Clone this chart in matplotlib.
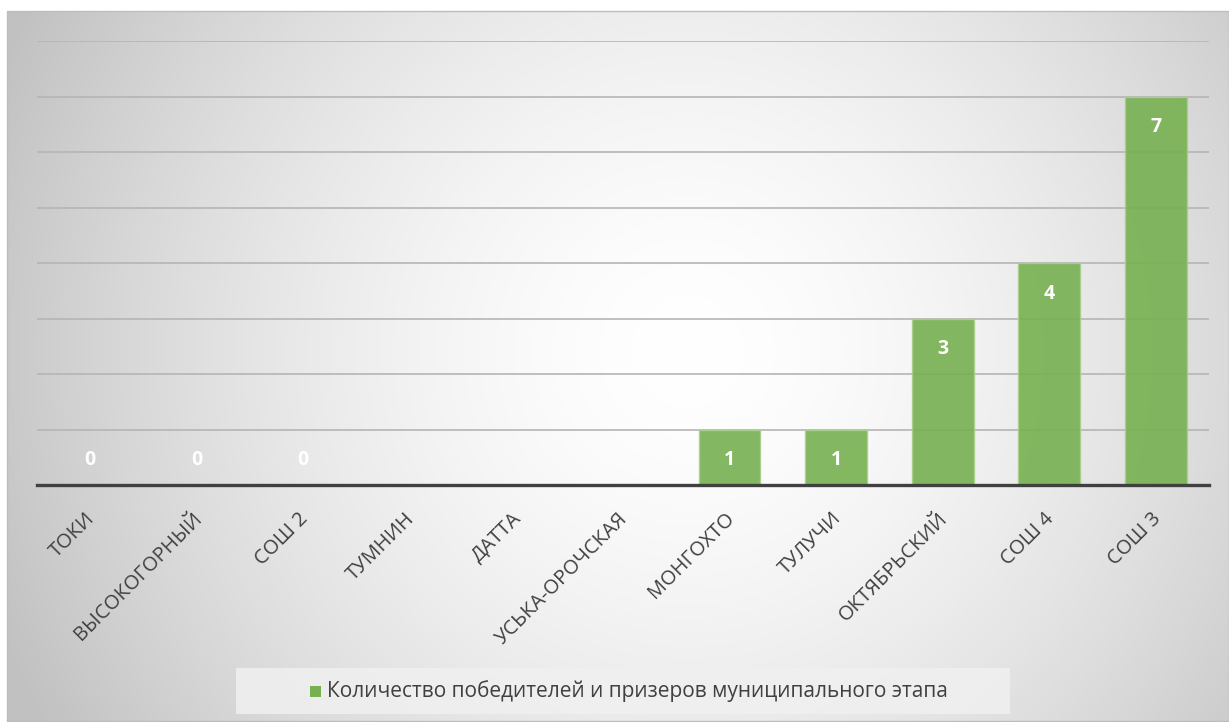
import numpy as np
import matplotlib.pyplot as plt
from matplotlib.patches import Rectangle
from matplotlib.transforms import ScaledTranslation

# Data
schools = ['ТОКИ', 'ВЫСОКОГОРНЫЙ', 'СОШ 2', 'ТУМНИН', 'ДАТТА', 'УСЬКА-ОРОЧСКАЯ',
           'МОНГОХТО', 'ТУЛУЧИ', 'ОКТЯБРЬСКИЙ', 'СОШ 4', 'СОШ 3']
winners = [0, 0, 0, None, None, None, 1, 1, 3, 4, 7]
series_name = 'Количество победителей и призеров муниципального этапа'

W, H = 1229, 722
fig = plt.figure(figsize=(W / 100, H / 100), dpi=100)
fig.patch.set_facecolor('white')

# Radial gradient background of the chart frame
bg = fig.add_axes([7 / W, 1 - 721 / H, (W - 7) / W, 710 / H], zorder=0)
yy, xx = np.mgrid[0:710, 0:1222]
d = np.hypot(xx - 680, yy - 340) / 740
g = 1 - 0.24 * np.clip(d, 0, 1) ** 1.6
bg.imshow(np.dstack([g, g, g]), aspect='auto', extent=(0, 1, 0, 1))
bg.set_axis_off()
fig.add_artist(Rectangle((7 / W, 1 - 721 / H), (W - 7) / W, 710 / H,
                         transform=fig.transFigure, fill=False,
                         edgecolor='#bdbdbd', lw=1, zorder=1))

ax = fig.add_axes([37 / W, 1 - 485 / H, 1172 / W, 444 / H], zorder=2)
ax.patch.set_alpha(0)

x = np.arange(len(schools))
vals = [v if v is not None else 0 for v in winners]
ax.bar(x, vals, width=0.58, color='#77b050', alpha=0.9,
       edgecolor='#a8d08a', linewidth=1, zorder=3)

for xi, v in zip(x, winners):
    if v is None:
        continue
    off = -22 if v > 0 else 18
    ax.annotate(str(v), (xi, v), xytext=(0, off), textcoords='offset points',
                ha='center', va='center', color='white', fontsize=14,
                fontweight='bold', family='Open Sans', zorder=4)

ax.set_xlim(-0.5, len(schools) - 0.5)
ax.set_ylim(0, 8)
ax.set_yticks(range(0, 9))
ax.yaxis.grid(True, color='#b5b5b5', lw=1.2, zorder=1)
ax.tick_params(axis='y', left=False, labelleft=False)
ax.tick_params(axis='x', length=0, pad=17)
for s in ['top', 'right', 'left']:
    ax.spines[s].set_visible(False)
ax.spines['bottom'].set_color('#404040')
ax.spines['bottom'].set_linewidth(2.4)
ax.spines['bottom'].set_zorder(5)

ax.set_xticks(x)
ax.set_xticklabels(schools, rotation=45, ha='right', va='top',
                   rotation_mode='anchor', fontsize=14.5, family='Open Sans',
                   color='#404040')
for lbl in ax.get_xticklabels():
    lbl.set_transform(lbl.get_transform() +
                      ScaledTranslation(-5 / 100, 0, fig.dpi_scale_trans))

# Legend box
fig.add_artist(Rectangle((236 / W, 1 - 714 / H), 774 / W, 46 / H,
                         transform=fig.transFigure, facecolor='#f0f0f0',
                         edgecolor='none', alpha=0.85, zorder=3))
fig.add_artist(Rectangle((310 / W, 1 - 697 / H), 11 / W, 11 / H,
                         transform=fig.transFigure, facecolor='#77b050',
                         edgecolor='none', zorder=4))
fig.text(327 / W, 1 - 691 / H, series_name, ha='left', va='center',
         fontsize=15, color='#404040',
         family=['Liberation Sans Narrow', 'Open Sans'], zorder=4)

plt.savefig('out.png', dpi=100)
